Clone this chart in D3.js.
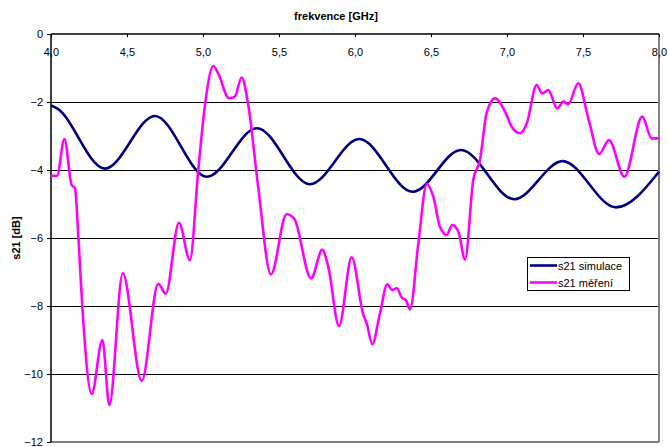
<!DOCTYPE html>
<html>
<head>
<meta charset="utf-8">
<script src="https://cdn.jsdelivr.net/npm/d3@7"></script>
<style>
  body { margin: 0; background: #fff; }
  svg text { font-family: "Liberation Sans", Arial, sans-serif; font-size: 11px; fill: #000; }
</style>
</head>
<body>
<script>
// values (frequency in GHz, s21 in dB)
var seriesNames = ["s21 simulace", "s21 měření"];
var seriesColors = ["#000080", "#ff00ff"];
var xTicks = [4.0, 4.5, 5.0, 5.5, 6.0, 6.5, 7.0, 7.5, 8.0];
var yTicks = [0, -2, -4, -6, -8, -10, -12];

var simulace = [
  [4.0, -2.1], [4.04, -2.19], [4.355, -3.96], [4.684, -2.41], [5.026, -4.2],
  [5.355, -2.77], [5.704, -4.42], [6.028, -3.09], [6.38, -4.64], [6.697, -3.41],
  [7.048, -4.86], [7.366, -3.74], [7.717, -5.1], [8.0, -4.05]
];

var mereni = [
  [4.0, -4.17], [4.04, -4.17], [4.088, -3.09], [4.136, -4.44], [4.158, -4.54],
  [4.18, -5.96], [4.206, -8.02], [4.268, -10.59], [4.338, -9.0], [4.384, -10.91],
  [4.472, -7.04], [4.597, -10.2], [4.706, -7.35], [4.755, -7.64], [4.842, -5.55],
  [4.914, -6.65], [4.969, -4.0], [5.013, -2.09], [5.068, -0.94], [5.1, -1.16],
  [5.171, -1.89], [5.21, -1.84], [5.254, -1.28], [5.298, -2.09], [5.364, -4.54],
  [5.447, -7.07], [5.55, -5.3], [5.6, -5.43], [5.711, -7.19], [5.785, -6.35],
  [5.824, -6.84], [5.895, -8.59], [5.978, -6.57], [6.055, -8.26], [6.077, -8.51],
  [6.114, -9.12], [6.164, -8.22], [6.213, -7.36], [6.245, -7.53], [6.274, -7.48],
  [6.311, -7.77], [6.334, -7.82], [6.362, -8.1], [6.417, -6.15], [6.472, -4.41],
  [6.515, -4.78], [6.559, -5.67], [6.603, -5.91], [6.64, -5.62], [6.68, -5.81],
  [6.724, -6.63], [6.778, -4.29], [6.822, -3.71], [6.866, -2.33], [6.921, -1.89],
  [6.987, -2.28], [7.031, -2.73], [7.086, -2.92], [7.13, -2.63], [7.195, -1.5],
  [7.232, -1.75], [7.272, -1.65], [7.331, -2.19], [7.37, -1.99], [7.403, -2.06],
  [7.469, -1.45], [7.535, -2.48], [7.607, -3.53], [7.671, -3.12], [7.772, -4.2],
  [7.89, -2.43], [7.952, -3.07], [8.0, -3.07]
];

var margin = {top: 34, right: 10, bottom: 5, left: 51},
    width = 669 - margin.left - margin.right,
    height = 447 - margin.top - margin.bottom;
var plotW = 608, plotH = 408;

var svg = d3.select("body").append("svg")
  .attr("width", 669)
  .attr("height", 447);

var g = svg.append("g")
  .attr("transform", "translate(" + margin.left + "," + margin.top + ")");

var x = d3.scaleLinear().domain([4, 8]).range([0, plotW]);
var y = d3.scaleLinear().domain([0, -12]).range([0, plotH]);

var fmt = function(d) { return d3.format(".1f")(d).replace(".", ","); };

// gridlines
g.selectAll(".grid")
  .data(yTicks.filter(function(d) { return d < 0 && d > -12; }))
  .enter().append("line")
  .attr("x1", 0).attr("x2", plotW)
  .attr("y1", function(d) { return y(d); })
  .attr("y2", function(d) { return y(d); })
  .attr("stroke", "#000").attr("stroke-width", 1)
  .attr("shape-rendering", "crispEdges");

// plot border (right & bottom gray)
g.append("line").attr("x1", plotW).attr("x2", plotW).attr("y1", 0).attr("y2", plotH)
  .attr("stroke", "#808080").attr("stroke-width", 2);
g.append("line").attr("x1", 0).attr("x2", plotW).attr("y1", plotH).attr("y2", plotH)
  .attr("stroke", "#808080").attr("stroke-width", 2);

// x axis on top, labels below
var xAxis = d3.axisBottom(x).tickValues(xTicks).tickFormat(fmt).tickSize(3).tickPadding(11);
var gx = g.append("g").call(xAxis);
gx.select(".domain").remove();
gx.selectAll("line").attr("stroke", "#000");
gx.selectAll("text").style("font-size", "11px");

var yAxis = d3.axisLeft(y).tickValues(yTicks).tickFormat(d3.format("d")).tickSize(4).tickPadding(4);
var gy = g.append("g").call(yAxis);
gy.select(".domain").remove();
gy.selectAll("line").attr("stroke", "#000");
gy.selectAll("text").style("font-size", "11px").attr("dy", "0.35em");

// axis lines
g.append("line").attr("x1", 0).attr("x2", plotW).attr("y1", 0).attr("y2", 0)
  .attr("stroke", "#000").attr("stroke-width", 1.5);
g.append("line").attr("x1", 0).attr("x2", 0).attr("y1", 0).attr("y2", plotH)
  .attr("stroke", "#000").attr("stroke-width", 1.5);

var line = d3.line()
  .x(function(d) { return x(d[0]); })
  .y(function(d) { return y(d[1]); })
  .curve(d3.curveMonotoneX);

[simulace, mereni].forEach(function(s, i) {
  g.append("path")
    .datum(s)
    .attr("fill", "none")
    .attr("stroke", seriesColors[i])
    .attr("stroke-width", 2.6)
    .attr("stroke-linejoin", "round")
    .attr("d", line);
});

// titles
svg.append("text")
  .attr("x", 336).attr("y", 20)
  .attr("text-anchor", "middle")
  .style("font-weight", "bold")
  .text("frekvence [GHz]");

svg.append("text")
  .attr("transform", "translate(20," + (margin.top + plotH / 2) + ") rotate(-90)")
  .attr("text-anchor", "middle")
  .style("font-weight", "bold")
  .text("s21 [dB]");

// legend
var legend = svg.append("g").attr("transform", "translate(527,257)");
legend.append("rect")
  .attr("x", 0.5).attr("y", 0.5).attr("width", 102).attr("height", 33)
  .attr("fill", "#fff").attr("stroke", "#000").attr("stroke-width", 1);
seriesNames.forEach(function(name, i) {
  var ly = 8.5 + i * 17;
  legend.append("line")
    .attr("x1", 3).attr("x2", 30).attr("y1", ly).attr("y2", ly)
    .attr("stroke", seriesColors[i]).attr("stroke-width", 2.6);
  legend.append("text")
    .attr("x", 31).attr("y", ly + 4)
    .text(name);
});
</script>
</body>
</html>
